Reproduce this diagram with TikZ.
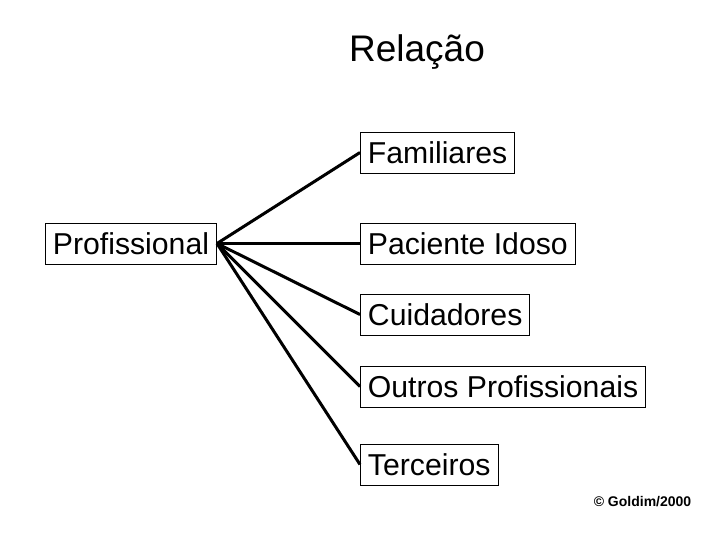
\documentclass[tikz,border=0pt]{standalone}
\usepackage{fontspec}
\setmainfont{Liberation Sans}
\usetikzlibrary{positioning}
\tikzset{
	caixa/.style={draw, line width=0.9bp, inner xsep=7.5bp, inner ysep=0bp, minimum height=41bp, font=\fontsize{30.2bp}{33bp}\selectfont},
	ligacao/.style={line width=3bp}
}

\begin{document}
\begin{tikzpicture}[x=1bp, y=-1bp]
			%%%%% START %%%%%
			
			\useasboundingbox (0, 0) rectangle (720, 540);
			
			\node[font=\fontsize{37bp}{40bp}\selectfont] (titulo) at (417, 52) {Relação};
			
			\node[caixa, anchor=east] (profissional) at (217, 243.5) {Profissional};
			
			\node[caixa, anchor=west] (familiares) at (360, 152.5) {Familiares};
			\node[caixa, anchor=west] (paciente) at (360, 243.5) {Paciente Idoso};
			\node[caixa, anchor=west] (cuidadores) at (360, 314.5) {Cuidadores};
			\node[caixa, anchor=west] (outros) at (360, 386.5) {Outros Profissionais};
			\node[caixa, anchor=west] (terceiros) at (360, 464.5) {Terceiros};
			
			\draw[ligacao] (profissional.east) -- (familiares.west);
			\draw[ligacao] (profissional.east) -- (paciente.west);
			\draw[ligacao] (profissional.east) -- (cuidadores.west);
			\draw[ligacao] (profissional.east) -- (outros.west);
			\draw[ligacao] (profissional.east) -- (terceiros.west);
			
			\node[font=\bfseries\fontsize{14bp}{16bp}\selectfont] (copyright) at (642.5, 502) {© Goldim/2000};
			
			%%%%% END %%%%%
\end{tikzpicture}
\end{document}
